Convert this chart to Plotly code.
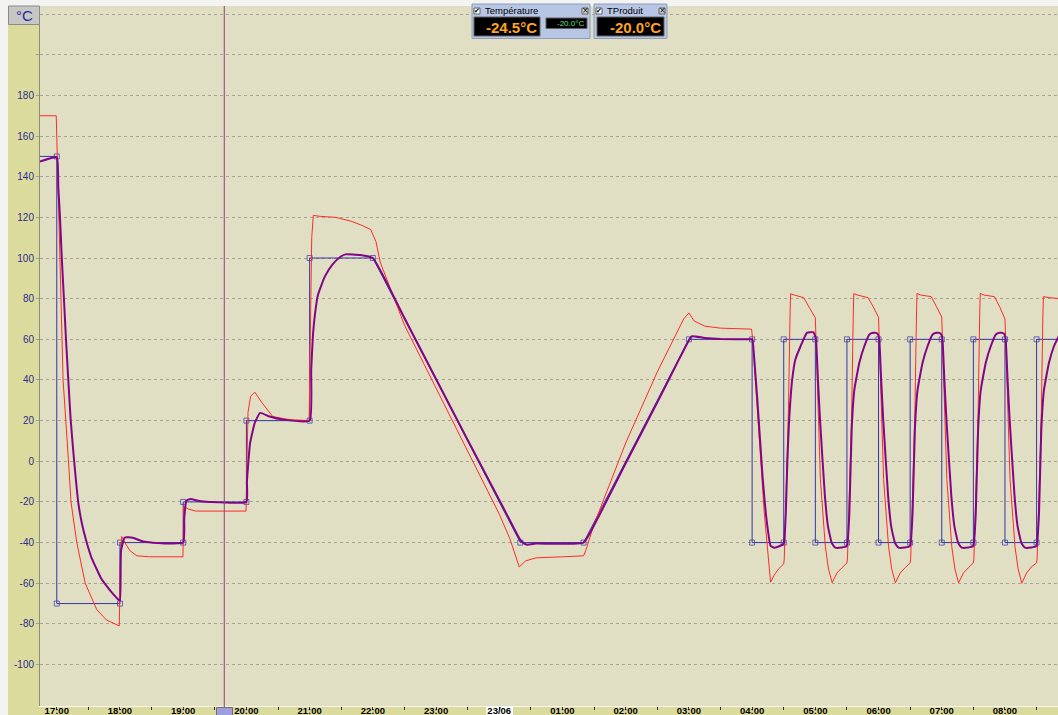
import plotly.graph_objects as go

# ---------------- data ----------------
def T(s):
    h = int(s[:2])
    day = "2010-06-22" if h >= 12 else "2010-06-23"
    return f"{day} {s}"

# setpoint (blue)
set_t = ["16:44", "17:00", "17:00", "18:00", "18:00", "19:00", "19:00", "20:00", "20:00",
         "21:00", "21:00", "22:00", "00:20", "01:20", "03:00", "04:00", "04:00", "04:30",
         "04:30", "05:00", "05:00", "05:30", "05:30", "06:00", "06:00", "06:30", "06:30",
         "07:00", "07:00", "07:30", "07:30", "08:00", "08:00", "08:30", "08:30", "08:52"]
set_v = [150, 150, -70, -70, -40, -40, -20, -20, 20, 20, 100, 100, -40, -40, 60, 60, -40, -40,
         60, 60, -40, -40, 60, 60, -40, -40, 60, 60, -40, -40, 60, 60, -40, -40, 60, 60]

# air temperature (red)
air_t = ["16:44", "16:59:30", "17:00:30", "17:01:25", "17:02:20", "17:04", "17:06", "17:08:45",
         "17:11", "17:13:30", "17:19", "17:27", "17:38", "17:47", "17:59:20",
         "18:00:20", "18:01:40", "18:04:40", "18:09:30", "18:16", "18:28", "18:59:45",
         "19:00:30", "19:01:30", "19:05", "19:12", "19:59:40",
         "20:01:30", "20:04", "20:08", "20:14:30", "20:25", "20:41", "20:59:30",
         "21:00:30", "21:02", "21:03:30", "21:10", "21:25", "21:40", "21:50", "21:58", "22:03", "22:07",
         "22:30", "23:00", "23:30", "00:00", "00:10", "00:19", "00:25", "00:35", "01:00", "01:20",
         "01:22", "01:30", "02:00", "02:30", "02:55", "03:00", "03:05", "03:15", "03:30", "03:59:30",
         "04:00:30", "04:01:30", "04:03", "04:08:30", "04:11:30", "04:17:30", "04:21", "04:25",
         "04:30", "04:30:30", "04:32", "04:34:30", "04:36", "04:36:30", "04:40", "04:49", "04:55", "05:00",
         "05:00:30", "05:01:40", "05:04:50", "05:09:30", "05:12:30", "05:16", "05:20:30", "05:25",
         "05:30", "05:30:30", "05:32", "05:34:30", "05:36", "05:36:30", "05:40", "05:50", "05:55", "06:00",
         "06:00:30", "06:01:40", "06:04:50", "06:09:30", "06:12:30", "06:16", "06:20:30", "06:25",
         "06:30", "06:30:30", "06:32", "06:34:30", "06:36", "06:36:30", "06:40", "06:50", "06:55", "07:00",
         "07:00:30", "07:01:40", "07:04:50", "07:09:30", "07:12:30", "07:16", "07:20:30", "07:25",
         "07:30", "07:30:30", "07:32", "07:34:30", "07:36", "07:36:30", "07:40", "07:50", "07:55", "08:00",
         "08:00:30", "08:01:40", "08:04:50", "08:09:30", "08:12:30", "08:16", "08:20:30", "08:25",
         "08:30", "08:30:30", "08:32", "08:34:30", "08:36", "08:36:30", "08:42", "08:52"]
air_v = [170, 170, 150, 129, 118, 80, 40, 20, 1, -20, -40, -60, -73, -78, -81,
         -50, -37, -40, -44, -46.5, -47, -47,
         -22, -22.5, -23.5, -24.5, -24.5,
         24, 32, 34, 29, 22, 20.5, 20,
         60, 110, 121, 120.5, 120, 118, 116, 114, 108, 98,
         67, 36, 5, -26, -38, -52, -49, -47.5, -47, -46.5,
         -44, -31, 9, 44, 70, 73, 69, 66.5, 65.5, 65,
         60, 52, 37, -2, -25, -59.5, -56, -53, -50.5, -48, -22, 26, 72, 82.4, 81.8, 80.5, 75, 70.6,
         62, 40, -9, -42, -53, -59.7, -55, -52.5, -50, -48, -25, 24, 72, 82.5, 81.8, 80.5, 76, 70.8,
         62, 40, -9, -42, -53, -59.8, -55, -52.5, -50, -48, -25, 24, 72, 82.6, 81.8, 81, 76, 71,
         62, 40, -9, -42, -53, -59.8, -55, -52.5, -50, -48, -25, 24, 72, 82.6, 81.8, 81, 76, 70,
         62, 40, -9, -42, -53, -60, -55, -52, -50, -48, -25, 24, 72, 81, 80.5, 80]

# product temperature (purple)
prod_t = ["16:44", "17:00", "17:01:25", "17:03", "17:04:40", "17:06:50", "17:08:45", "17:10:55",
          "17:13:10", "17:16:20", "17:20:25", "17:24", "17:28:25", "17:33", "17:37:50", "17:42",
          "17:47:25", "17:53", "17:58:25", "18:00",
          "18:01", "18:04:30", "18:12", "18:22", "18:30", "19:00",
          "19:01", "19:03", "19:07", "19:15", "19:25", "20:00",
          "20:00:30", "20:03:30", "20:08", "20:13", "20:22", "20:35", "21:00",
          "21:01:30", "21:03:10", "21:05", "21:08", "21:14:30", "21:22", "21:29", "21:34", "21:48", "22:00",
          "22:30", "23:00", "23:30", "00:00", "00:15", "00:21", "00:26", "00:35", "01:20",
          "01:30", "02:00", "02:30", "02:50", "03:01", "03:03", "03:15", "03:30", "04:00",
          "04:00:20", "04:01:30", "04:05", "04:10", "04:14", "04:17:30", "04:21", "04:29",
          "04:30:20", "04:32", "04:33:30", "04:35", "04:38", "04:41", "04:46", "04:52", "04:58", "04:59:40",
          "05:00:40", "05:02:30", "05:04:25", "05:09:05", "05:12", "05:15:30", "05:18", "05:20", "05:25",
          "05:29:40", "05:30:30", "05:32:20", "05:34:30", "05:37", "05:41:50", "05:46:30", "05:51:20",
          "05:55", "05:57:40", "05:59:30",
          "06:00:40", "06:02:30", "06:04:25", "06:09:05", "06:12", "06:15:30", "06:18", "06:20", "06:25",
          "06:29:40", "06:30:30", "06:32:20", "06:34:30", "06:37", "06:41:50", "06:46:30", "06:51:20",
          "06:55", "06:57:40", "06:59:30",
          "07:00:40", "07:02:30", "07:04:25", "07:09:05", "07:12", "07:15:30", "07:18", "07:20", "07:25",
          "07:29:40", "07:30:30", "07:32:20", "07:34:30", "07:37", "07:41:50", "07:46:30", "07:51:20",
          "07:55", "07:57:40", "07:59:30",
          "08:00:40", "08:02:30", "08:04:25", "08:09:05", "08:12", "08:15:30", "08:18", "08:20", "08:25",
          "08:29:40", "08:30:30", "08:32:20", "08:34:30", "08:37", "08:41:50", "08:46:30", "08:52"]
prod_v = [147.5, 149.5, 135, 120.6, 101, 79.6, 60, 40.3, 20.6, 1, -20.3, -31, -40, -47.5, -53, -57.5,
          -61.4, -65, -68, -68.5,
          -44, -37.5, -37.6, -39.5, -40, -40,
          -28, -19.5, -18.5, -19.5, -20, -20,
          -10, 9, 19, 23.8, 22, 20.5, 20,
          45, 62, 72, 82, 91, 97, 100.5, 101.8, 101.5, 100,
          70.5, 40.5, 10.5, -19, -34, -39.5, -41, -40.5, -40,
          -31.5, -1, 29, 49.5, 60.5, 61.5, 60.7, 60.2, 60,
          60, 54, 30, -8, -30, -41.5, -42.6, -41, -40, -25, 0.6, 19, 40, 50, 56.6, 63.2, 63.5, 62,
          60, 40, 20.6, -17, -32, -40, -42, -42.6, -42.4, -41.8, -40, -25, 15.6, 35, 48.6, 56.6, 62.4, 63.2, 63.2, 62.5,
          60, 40, 20.6, -17, -32, -40, -42, -42.6, -42.4, -41.8, -40, -25, 15.6, 35, 48.6, 56.6, 62.4, 63.2, 63.2, 62.5,
          60, 40, 20.6, -17, -32, -40, -42, -42.6, -42.4, -41.8, -40, -25, 15.6, 35, 48.6, 56.6, 62.4, 63.2, 63.2, 62.5,
          60, 40, 20.6, -17, -32, -40, -42, -42.6, -42.4, -41.8, -40, -25, 15.6, 35, 48.6, 56.6, 62.5]

hour_ticks = ["17:00", "18:00", "19:00", "20:00", "21:00", "22:00", "23:00", "00:00",
              "01:00", "02:00", "03:00", "04:00", "05:00", "06:00", "07:00", "08:00"]
hour_labels = ["17:00", "18:00", "19:00", "20:00", "21:00", "22:00", "23:00", "23/06",
               "01:00", "02:00", "03:00", "04:00", "05:00", "06:00", "07:00", "08:00"]
y_ticks = [-100, -80, -60, -40, -20, 0, 20, 40, 60, 80, 100, 120, 140, 160, 180, 200, 220]
y_labels = ["-100", "-80", "-60", "-40", "-20", "0", "20", "40", "60", "80", "100", "120",
            "140", "160", "180", "", ""]
cursor_time = "19:39"
widget_air = "-24.5°C"
widget_air_set = "-20.0°C"
widget_prod = "-20.0°C"

# ---------------- figure ----------------
W, H = 1058, 715
L, R, TOP, B = 40, 0, 6, 9
PW, PH = W - L - R, H - TOP - B


def px(x):
    return (x - L) / PW


def py(y):
    return (H - B - y) / PH


fig = go.Figure()
msize = [0] + [5] * (len(set_t) - 2) + [0]
fig.add_trace(go.Scatter(x=[T(s) for s in set_t], y=set_v, mode="lines+markers",
                         line=dict(color="#3535A5", width=1),
                         marker=dict(symbol="square-open", size=msize, color="#3535A5",
                                     line=dict(width=1)),
                         hoverinfo="skip", showlegend=False))
fig.add_trace(go.Scatter(x=[T(s) for s in air_t], y=air_v, mode="lines",
                         line=dict(color="#FF2A2A", width=1),
                         hoverinfo="skip", showlegend=False))
fig.add_trace(go.Scatter(x=[T(s) for s in prod_t], y=prod_v, mode="lines",
                         line=dict(color="#820587", width=2, shape="spline", smoothing=0.4),
                         hoverinfo="skip", showlegend=False))

shapes = []
olive = "#DCDB9E"
shapes.append(dict(type="rect", xref="paper", yref="paper", x0=px(8), x1=px(40), y0=py(716), y1=py(6),
                   fillcolor=olive, line=dict(width=0), layer="below"))
shapes.append(dict(type="rect", xref="paper", yref="paper", x0=px(40), x1=px(1058), y0=py(716), y1=py(706),
                   fillcolor=olive, line=dict(width=0), layer="below"))
shapes.append(dict(type="rect", xref="paper", yref="paper", x0=px(486), x1=px(513), y0=py(716), y1=py(707),
                   fillcolor="#FFFFFF", line=dict(width=0), layer="below"))
shapes.append(dict(type="rect", xref="paper", yref="paper", x0=px(8.5), x1=px(39.5), y0=py(24.5), y1=py(6),
                   fillcolor="#C6C6C6", line=dict(color="#8A8A8A", width=1), layer="above"))
shapes.append(dict(type="line", xref="x", yref="paper", x0=T(cursor_time), x1=T(cursor_time),
                   y0=py(716), y1=1, line=dict(color="#8E3F6E", width=1), layer="above"))
shapes.append(dict(type="rect", xref="paper", yref="paper", x0=px(216.5), x1=px(232.5), y0=py(717), y1=py(707.5),
                   fillcolor="#9E9EDC", line=dict(color="#7A6A6A", width=1), layer="above"))
for (x0, x1) in [(472, 590), (594, 667)]:
    shapes.append(dict(type="rect", xref="paper", yref="paper", x0=px(x0), x1=px(x1), y0=py(38.5), y1=py(4),
                       fillcolor="#B8C6E6", line=dict(color="#8E9CBC", width=1), layer="above"))
for (x0, x1, y0, y1) in [(474, 540, 17, 36), (546, 587, 18, 28.5), (597, 664, 17, 36)]:
    shapes.append(dict(type="rect", xref="paper", yref="paper", x0=px(x0), x1=px(x1), y0=py(y1), y1=py(y0),
                       fillcolor="#000000", line=dict(color="#606060", width=1), layer="above"))
for cx in [477, 599]:
    shapes.append(dict(type="rect", xref="paper", yref="paper", x0=px(cx - 3), x1=px(cx + 3), y0=py(14), y1=py(8),
                       fillcolor="#FFFFFF", line=dict(color="#606060", width=1), layer="above"))
for cx in [585, 662]:
    shapes.append(dict(type="rect", xref="paper", yref="paper", x0=px(cx - 3), x1=px(cx + 3), y0=py(14), y1=py(8),
                       fillcolor="#D8D8D8", line=dict(color="#606060", width=1), layer="above"))

ann = []
ann.append(dict(xref="paper", yref="paper", x=px(24), y=py(15), text="°C", showarrow=False,
                font=dict(family="Liberation Sans", size=15, color="#2A2A90"),
                xanchor="center", yanchor="middle"))
for cx in [477, 599]:
    ann.append(dict(xref="paper", yref="paper", x=px(cx), y=py(11), text="✔", showarrow=False,
                    font=dict(family="DejaVu Sans", size=7, color="#000000"),
                    xanchor="center", yanchor="middle"))
for cx in [585, 662]:
    ann.append(dict(xref="paper", yref="paper", x=px(cx), y=py(11), text="×", showarrow=False,
                    font=dict(family="DejaVu Sans", size=8, color="#000000"),
                    xanchor="center", yanchor="middle"))
ann.append(dict(xref="paper", yref="paper", x=px(483), y=py(11), text="Température", showarrow=False,
                font=dict(family="Liberation Sans", size=9.5, color="#000000"),
                xanchor="left", yanchor="middle"))
ann.append(dict(xref="paper", yref="paper", x=px(605), y=py(11), text="TProduit", showarrow=False,
                font=dict(family="Liberation Sans", size=9.5, color="#000000"),
                xanchor="left", yanchor="middle"))
ann.append(dict(xref="paper", yref="paper", x=px(539), y=py(27), text="<b>" + widget_air + "</b>", showarrow=False,
                font=dict(family="Liberation Sans", size=15, color="#FFA41C"),
                xanchor="right", yanchor="middle"))
ann.append(dict(xref="paper", yref="paper", x=px(586), y=py(23.5), text=widget_air_set, showarrow=False,
                font=dict(family="Liberation Sans Narrow, Liberation Sans", size=8, color="#5EE08A"),
                xanchor="right", yanchor="middle"))
ann.append(dict(xref="paper", yref="paper", x=px(663), y=py(27), text="<b>" + widget_prod + "</b>", showarrow=False,
                font=dict(family="Liberation Sans", size=15, color="#FFA41C"),
                xanchor="right", yanchor="middle"))

fig.update_layout(
    width=W, height=H,
    margin=dict(l=L, r=R, t=TOP, b=B, pad=0, autoexpand=False),
    paper_bgcolor="#F3F3F1",
    plot_bgcolor="#E0DFC4",
    shapes=shapes,
    annotations=ann,
    showlegend=False,
    xaxis=dict(
        range=[T("16:44:05"), T("08:50:20")],
        type="date",
        automargin=False,
        tickvals=[T(s) for s in hour_ticks],
        ticktext=hour_labels,
        tickfont=dict(family="Liberation Sans", size=9.5, color="#000000", weight="bold"),
        ticklabelstandoff=-7,
        ticks="outside", ticklen=3, tickcolor="#333333", tickwidth=1,
        minor=dict(dtick=1800000, ticks="outside", ticklen=3, tickcolor="#333333", showgrid=False),
        showgrid=False, zeroline=False,
        showline=True, linecolor="#F6F6EE", linewidth=1,
        fixedrange=True,
    ),
    yaxis=dict(
        range=[-120.4, 224],
        automargin=False,
        tickvals=y_ticks, ticktext=y_labels,
        tickfont=dict(family="Liberation Sans", size=10, color="#2C2C8E"),
        ticks="outside", ticklen=3, tickcolor="#A0A094",
        showgrid=True, gridcolor="#A3A396", griddash="3px,3px", gridwidth=1,
        zeroline=False, showline=True, linecolor="#8C8C7A", linewidth=1,
        fixedrange=True,
    ),
)

fig.write_html("out.html", config={"displayModeBar": False},
               post_script="document.body.style.margin='0';document.body.style.padding='0';"
                           "document.body.style.overflow='hidden';")
